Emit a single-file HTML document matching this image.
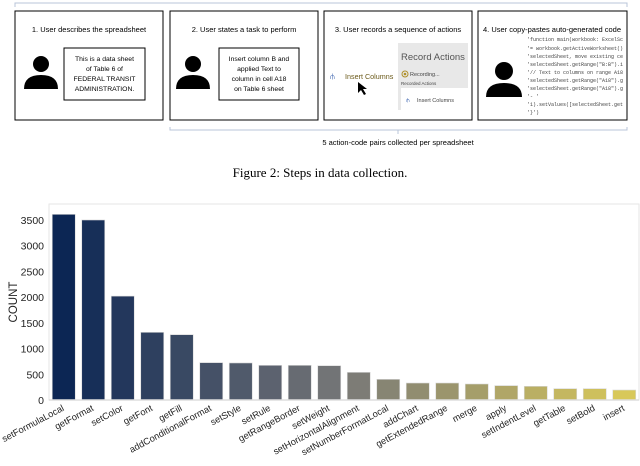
<!DOCTYPE html>
<html><head><meta charset="utf-8"><style>
html,body{margin:0;padding:0;background:#fff;}
svg text{font-family:"Liberation Sans",sans-serif;}
svg text.mono{font-family:"Liberation Mono",monospace;}
</style></head><body>
<svg width="640" height="461" viewBox="0 0 640 461" xmlns="http://www.w3.org/2000/svg">
<g>
  <path d="M15,7 V3 H627 V7" fill="none" stroke="#b8c4d8" stroke-width="1"/>
  <g>
    <rect x="15" y="11" width="148" height="109" fill="#fff" stroke="#000" stroke-width="1"/>
    <text x="89" y="32" font-size="7.5" text-anchor="middle">1. User describes the spreadsheet</text>
    <circle cx="41" cy="64" r="8" fill="#000"/><path d="M24,89 Q24,75 41,75 Q58,75 58,89 Z" fill="#000"/>
    <rect x="64" y="48" width="81" height="52" fill="#fff" stroke="#000"/>
    <text font-size="6.8" text-anchor="middle"><tspan x="104.5" y="61">This is a data sheet</tspan><tspan x="104.5" y="71">of Table 6 of</tspan><tspan x="104.5" y="81">FEDERAL TRANSIT</tspan><tspan x="104.5" y="91">ADMINISTRATION.</tspan></text>
  </g>
  <g>
    <rect x="170" y="11" width="148" height="109" fill="#fff" stroke="#000" stroke-width="1"/>
    <text x="244" y="32" font-size="7.5" text-anchor="middle">2. User states a task to perform</text>
    <circle cx="193" cy="64" r="8" fill="#000"/><path d="M176,89 Q176,75 193,75 Q210,75 210,89 Z" fill="#000"/>
    <rect x="219" y="48" width="80" height="52" fill="#fff" stroke="#000"/>
    <text font-size="6.8" text-anchor="middle"><tspan x="259" y="61">Insert column B and</tspan><tspan x="259" y="71">applied Text to</tspan><tspan x="259" y="81">column in cell A18</tspan><tspan x="259" y="91">on Table 6 sheet</tspan></text>
  </g>
  <g>
    <rect x="324" y="11" width="148" height="109" fill="#fff" stroke="#000" stroke-width="1"/>
    <text x="398" y="32" font-size="7.5" text-anchor="middle">3. User records a sequence of actions</text>
    <rect x="398" y="43" width="70" height="67" fill="#e8e8e8"/>
    <text x="401" y="60" font-size="9.5" fill="#555">Record Actions</text>
    <circle cx="405" cy="74" r="3" fill="none" stroke="#b0902a"/><circle cx="405" cy="74" r="1.3" fill="#b0902a"/>
    <text x="410" y="76" font-size="5.5" fill="#444">Recording...</text>
    <text x="401" y="85" font-size="4.5" fill="#444">Recorded Actions</text>
    <rect x="401" y="88" width="67" height="22" fill="#fff"/>
    <text x="417" y="102" font-size="5.5" fill="#444">Insert Columns</text>
    <text x="406" y="102" font-size="6" fill="#4a6fb5">⫛</text>
    <text x="330" y="79" font-size="8" fill="#4a6fb5">⫛</text>
    <text x="345" y="79" font-size="7.2" fill="#6b5a1a">Insert Columns</text>
    <path d="M358,82 L358,93 L361,90 L364,95 L366,94 L363,89 L367,89 Z" fill="#000"/>
  </g>
  <g>
    <rect x="478" y="11" width="149" height="109" fill="#fff" stroke="#000" stroke-width="1"/>
    <text x="552" y="32" font-size="7.5" text-anchor="middle">4. User copy-pastes auto-generated code</text>
    <circle cx="504" cy="71" r="9" fill="#000"/><path d="M486,97 Q486,83 504,83 Q522,83 522,97 Z" fill="#000"/>
    <g font-size="5" fill="#444">
      <text class="mono" x="527" y="41">'function main(workbook: ExcelSc</text>
      <text class="mono" x="527" y="50">'= workbook.getActiveWorksheet()</text>
      <text class="mono" x="527" y="58">'selectedSheet, move existing ce</text>
      <text class="mono" x="527" y="66">'selectedSheet.getRange("B:B").i</text>
      <text class="mono" x="527" y="74">'// Text to columns on range A18</text>
      <text class="mono" x="527" y="82">'selectedSheet.getRange("A18").g</text>
      <text class="mono" x="527" y="90">'selectedSheet.getRange("A18").g</text>
      <text class="mono" x="527" y="98">'- '</text>
      <text class="mono" x="527" y="106">'1).setValues([selectedSheet.get</text>
      <text class="mono" x="527" y="114">'}')</text>
    </g>
  </g>
  <path d="M170,127 V130 H627 V127 M398,130 V134" fill="none" stroke="#b8c4d8" stroke-width="1"/>
  <text x="398" y="145" font-size="7.5" text-anchor="middle">5 action-code pairs collected per spreadsheet</text>
</g>
<text x="320" y="177" font-size="13" text-anchor="middle" style="font-family:'Liberation Serif',serif">Figure 2: Steps in data collection.</text>
<g id="chart"></g>
</svg>
<script>
const categories = ["setFormulaLocal","getFormat","setColor","getFont","getFill","addConditionalFormat","setStyle","setRule","getRangeBorder","setWeight","setHorizontalAlignment","setNumberFormatLocal","addChart","getExtendedRange","merge","apply","setIndentLevel","getTable","setBold","insert"];
const counts = [3610,3500,2020,1316,1270,726,720,674,674,667,538,402,330,330,311,279,266,220,220,194];
const yTicks = [0,500,1000,1500,2000,2500,3000,3500];

const NS = "http://www.w3.org/2000/svg";
const g = document.getElementById("chart");
const L = 49, R = 639, T = 204, B = 400, YMAX = 3811;
const band = (R - L) / categories.length;
const x = i => L + band * i + band / 2;
const y = v => B - (v / YMAX) * (B - T);
function mk(tag, attrs) { const e = document.createElementNS(NS, tag); for (const k in attrs) e.setAttribute(k, attrs[k]); g.appendChild(e); return e; }
const frame = mk("rect", {x:L, y:T, width:R-L, height:B-T, fill:"#fff", stroke:"#e6e6e6", "stroke-width":1});


const c0 = [12,38,84], cm = [120,120,120], c1 = [216,200,90];
function col(t) {
  let a, b, u;
  if (t < 0.5) { a = c0; b = cm; u = t / 0.5; } else { a = cm; b = c1; u = (t - 0.5) / 0.5; }
  return "rgb(" + a.map((v, k) => Math.round(v + (b[k] - v) * u)).join(",") + ")";
}
yTicks.forEach(v => {
  const t = mk("text", {x:L-5, y:y(v)+4, "font-size":10.5, "text-anchor":"end", fill:"#222"});
  t.textContent = v;
  
  
});
const yt = mk("text", {x:0, y:0, "font-size":11.5, "text-anchor":"middle", fill:"#222", transform:"translate(17,"+((T+B)/2)+") rotate(-90)"});
yt.textContent = "COUNT";


const bw = band * 0.78;
categories.forEach((c, i) => {
  const r = mk("rect", {x:x(i)-bw/2, y:y(counts[i]), width:bw, height:B-y(counts[i]), fill:col(i/(categories.length-1)), stroke:"#d8d8d8", "stroke-width":0.6});
  
  
  const t = mk("text", {x:0, y:0, "font-size":9.3, "text-anchor":"end", fill:"#222", transform:"translate("+(x(i)+1)+","+(B+10)+") rotate(-28)"});
  t.textContent = c;
  
  
});
const ax = mk("line", {x1:L, x2:R, y1:B, y2:B, stroke:"#ddd", "stroke-width":1.5});


</script>
</body></html>
